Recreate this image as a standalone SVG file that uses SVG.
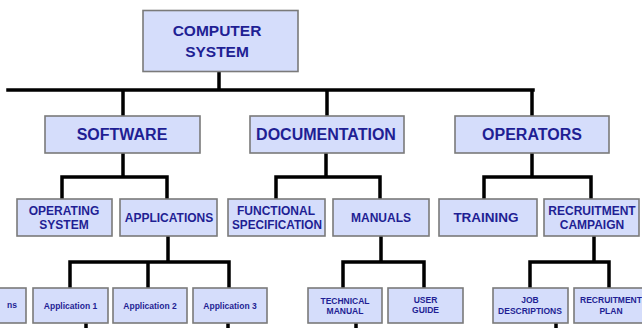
<svg xmlns="http://www.w3.org/2000/svg" width="642" height="328" viewBox="0 0 642 328">
<style>
.b{fill:#d5ddfb;stroke:#7a7a7a;stroke-width:1.6}
.t{font-family:"Liberation Sans",Arial,sans-serif;font-weight:bold;fill:#1f1f94;text-anchor:middle}
.l1{font-size:15.5px}
.l2{font-size:16px}
.l3{font-size:12px}
.l4{font-size:8.5px}
.c{stroke:#000;stroke-width:3.5;fill:none;stroke-linecap:square}
</style>
<rect width="642" height="328" fill="#fff"/>
<g id="connectors">
<path class="c" d="M219 72V90M8 90H533M123 90V115M327 90V115M532 90V115"/>
<path class="c" d="M123 154V177M62 177H167M62 177V198M167 177V198"/>
<path class="c" d="M326 154V177M276 177H380M276 177V198M380 177V198"/>
<path class="c" d="M532 154V177M484 177H591M484 177V198M591 177V198"/>
<path class="c" d="M168 237V262M70 262H229M70 262V287M148 262V287M229 262V287M86 324V330M228 324V330"/>
<path class="c" d="M381 237V262M343 262H424M343 262V287M424 262V287M356 324V330"/>
<path class="c" d="M594 237V262M530 262H609M530 262V287M609 262V287M556 324V330"/>
</g>
<g id="computer-system"><rect class="b" x="143" y="10.5" width="155" height="61"/><text class="t l1" x="217" y="36">COMPUTER</text><text class="t l1" x="217" y="56.5">SYSTEM</text></g>
<g id="software"><rect class="b" x="45" y="116" width="155" height="37"/><text class="t l2" x="122" y="140">SOFTWARE</text></g>
<g id="documentation"><rect class="b" x="250" y="116" width="154" height="37"/><text class="t l2" x="326" y="140">DOCUMENTATION</text></g>
<g id="operators"><rect class="b" x="455" y="116" width="154" height="37"/><text class="t l2" x="532" y="140">OPERATORS</text></g>
<g id="operating-system"><rect class="b" x="17" y="199" width="95" height="37"/><text class="t l3" x="64" y="215">OPERATING</text><text class="t l3" x="64" y="229">SYSTEM</text></g>
<g id="applications"><rect class="b" x="120" y="199" width="97" height="37"/><text class="t l3" x="169" y="222">APPLICATIONS</text></g>
<g id="functional-specification"><rect class="b" x="228" y="199" width="97" height="37"/><text class="t l3" x="276" y="215">FUNCTIONAL</text><text class="t l3" x="277" y="229" textLength="90" lengthAdjust="spacingAndGlyphs">SPECIFICATION</text></g>
<g id="manuals"><rect class="b" x="333" y="199" width="96" height="37"/><text class="t l3" x="381" y="222">MANUALS</text></g>
<g id="training"><rect class="b" x="439" y="199" width="98" height="37"/><text class="t" style="font-size:13.5px" x="486" y="221.5">TRAINING</text></g>
<g id="recruitment-campaign"><rect class="b" x="544" y="199" width="95" height="37"/><text class="t l3" x="592" y="215">RECRUITMENT</text><text class="t l3" x="592" y="229">CAMPAIGN</text></g>
<g id="partial"><rect class="b" x="-49" y="288" width="75" height="35"/><text class="t l4" x="17" y="308" style="text-anchor:end">ns</text></g>
<g id="application-1"><rect class="b" x="33" y="288" width="75" height="35"/><text class="t l4" x="70.5" y="308.5">Application 1</text></g>
<g id="application-2"><rect class="b" x="113" y="288" width="74" height="35"/><text class="t l4" x="150" y="308.5">Application 2</text></g>
<g id="application-3"><rect class="b" x="193" y="288" width="74" height="35"/><text class="t l4" x="230" y="308.5">Application 3</text></g>
<g id="technical-manual"><rect class="b" x="308" y="288" width="74" height="35"/><text class="t l4" x="345" y="303.5">TECHNICAL</text><text class="t l4" x="345" y="313.5">MANUAL</text></g>
<g id="user-guide"><rect class="b" x="388" y="288" width="75" height="35"/><text class="t l4" x="425.5" y="303">USER</text><text class="t l4" x="425.5" y="313">GUIDE</text></g>
<g id="job-descriptions"><rect class="b" x="493" y="288" width="75" height="35"/><text class="t l4" x="530" y="303">JOB</text><text class="t l4" x="530" y="313.5">DESCRIPTIONS</text></g>
<g id="recruitment-plan"><rect class="b" x="574" y="288" width="75" height="35"/><text class="t l4" x="611" y="303">RECRUITMENT</text><text class="t l4" x="611" y="313.5">PLAN</text></g>
</svg>
